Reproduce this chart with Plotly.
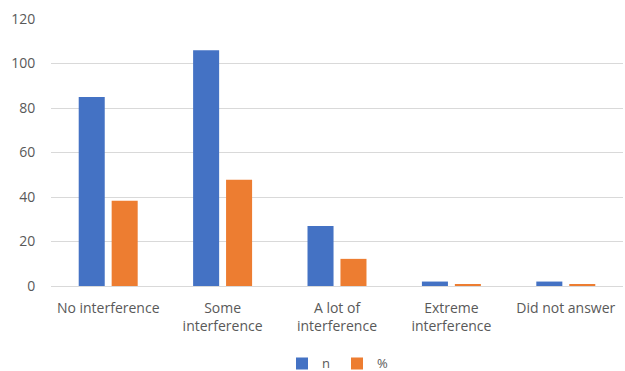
import plotly.graph_objects as go

categories = ["No interference", "Some<br>interference", "A lot of<br>interference",
              "Extreme<br>interference", "Did not answer"]
n_values = [85, 106, 27, 2, 2]
pct_values = [38.3, 47.7, 12.2, 0.9, 0.9]
y_ticks = [0, 20, 40, 60, 80, 100, 120]

blue = "#4472C4"
orange = "#ED7D31"
text_gray = "#595959"
grid_gray = "#D9D9D9"
font_family = "'Open Sans', sans-serif"

fig = go.Figure()
fig.add_trace(go.Bar(name="n", x=categories, y=n_values, marker_color=blue,
                     marker_line_width=0))
fig.add_trace(go.Bar(name="%", x=categories, y=pct_values, marker_color=orange,
                     marker_line_width=0))

fig.update_layout(
    width=625, height=371,
    margin=dict(l=51, r=2, t=19, b=85, autoexpand=False),
    paper_bgcolor="white", plot_bgcolor="white",
    barmode="group", bargap=0.424, bargroupgap=0.21,
    font=dict(family=font_family, size=13, color=text_gray),
    legend=dict(orientation="h", x=0.5, xanchor="center", y=-0.29, yanchor="middle",
                font=dict(size=13, color=text_gray), itemwidth=30, entrywidth=10,
                traceorder="normal"),
    showlegend=True,
)
fig.update_xaxes(showgrid=False, showline=False, ticks="outside", ticklen=9,
                 tickcolor="rgba(0,0,0,0)", tickfont=dict(size=14, color=text_gray))
fig.update_yaxes(range=[0, 120], tickvals=y_ticks, showgrid=True, gridcolor=grid_gray,
                 gridwidth=1, zeroline=True, zerolinecolor=grid_gray, zerolinewidth=1,
                 showline=False, ticks="outside", ticklen=12, tickcolor="rgba(0,0,0,0)",
                 tickfont=dict(size=14, color=text_gray))

fig.write_html("out.html")
